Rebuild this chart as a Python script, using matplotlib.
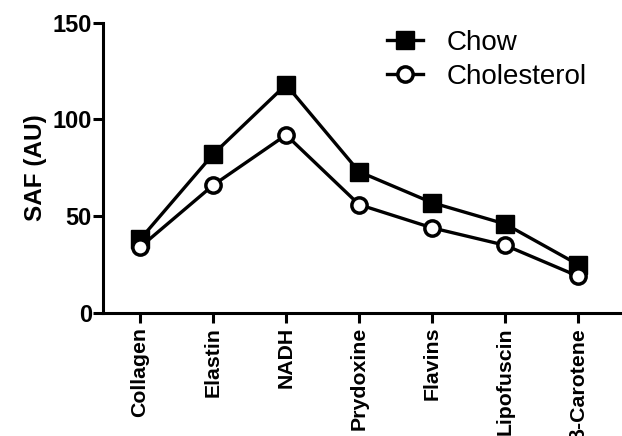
import matplotlib
matplotlib.use("Agg")
import matplotlib.pyplot as plt

categories = ["Collagen", "Elastin", "NADH", "Prydoxine", "Flavins", "Lipofuscin", "β-Carotene"]
chow = [38, 82, 118, 73, 57, 46, 25]
cholesterol = [34, 66, 92, 56, 44, 35, 19]
yticks = [0, 50, 100, 150]

plt.rcParams['font.family'] = ['Liberation Sans', 'DejaVu Sans']

W, H = 622, 436
fig = plt.figure(figsize=(W / 100, H / 100), dpi=100)
ax = fig.add_axes([103 / W, 1 - 313 / H, (W - 103) / W, (313 - 22.7) / H])

x = list(range(len(categories)))
lw = 2.4
ax.plot(x, chow, color='black', lw=lw, marker='s', markersize=13,
        markerfacecolor='black', markeredgecolor='black', label='Chow', zorder=3)
ax.plot(x, cholesterol, color='black', lw=lw, marker='o', markersize=11,
        markerfacecolor='white', markeredgecolor='black', markeredgewidth=2.5,
        label='Cholesterol', zorder=3)

ax.set_xlim(-0.507, 6.6)
ax.set_ylim(0, 150)
ax.set_yticks(yticks)
ax.set_xticks(x)
ax.set_xticklabels(categories, rotation=90, fontsize=15.3, fontweight='bold', va='top')
ax.tick_params(axis='y', labelsize=17, width=2.2, length=7, pad=1)
ax.tick_params(axis='x', width=2.2, length=7, pad=3)
for lab in ax.get_yticklabels():
    lab.set_fontweight('bold')
for s in ['top', 'right']:
    ax.spines[s].set_visible(False)
for s in ['left', 'bottom']:
    ax.spines[s].set_linewidth(2.2)
ax.spines['left'].set_bounds(0, 150)

ax.set_ylabel("SAF (AU)", fontsize=17.5, fontweight='bold', labelpad=4)

leg = fig.legend(loc='upper left', bbox_to_anchor=(387 / W, 1 - 30 / H),
                 frameon=False, fontsize=20, handlelength=1.3, handletextpad=0.85,
                 labelspacing=0.28, borderpad=0, borderaxespad=0)

fig.savefig("out.png", dpi=100)
